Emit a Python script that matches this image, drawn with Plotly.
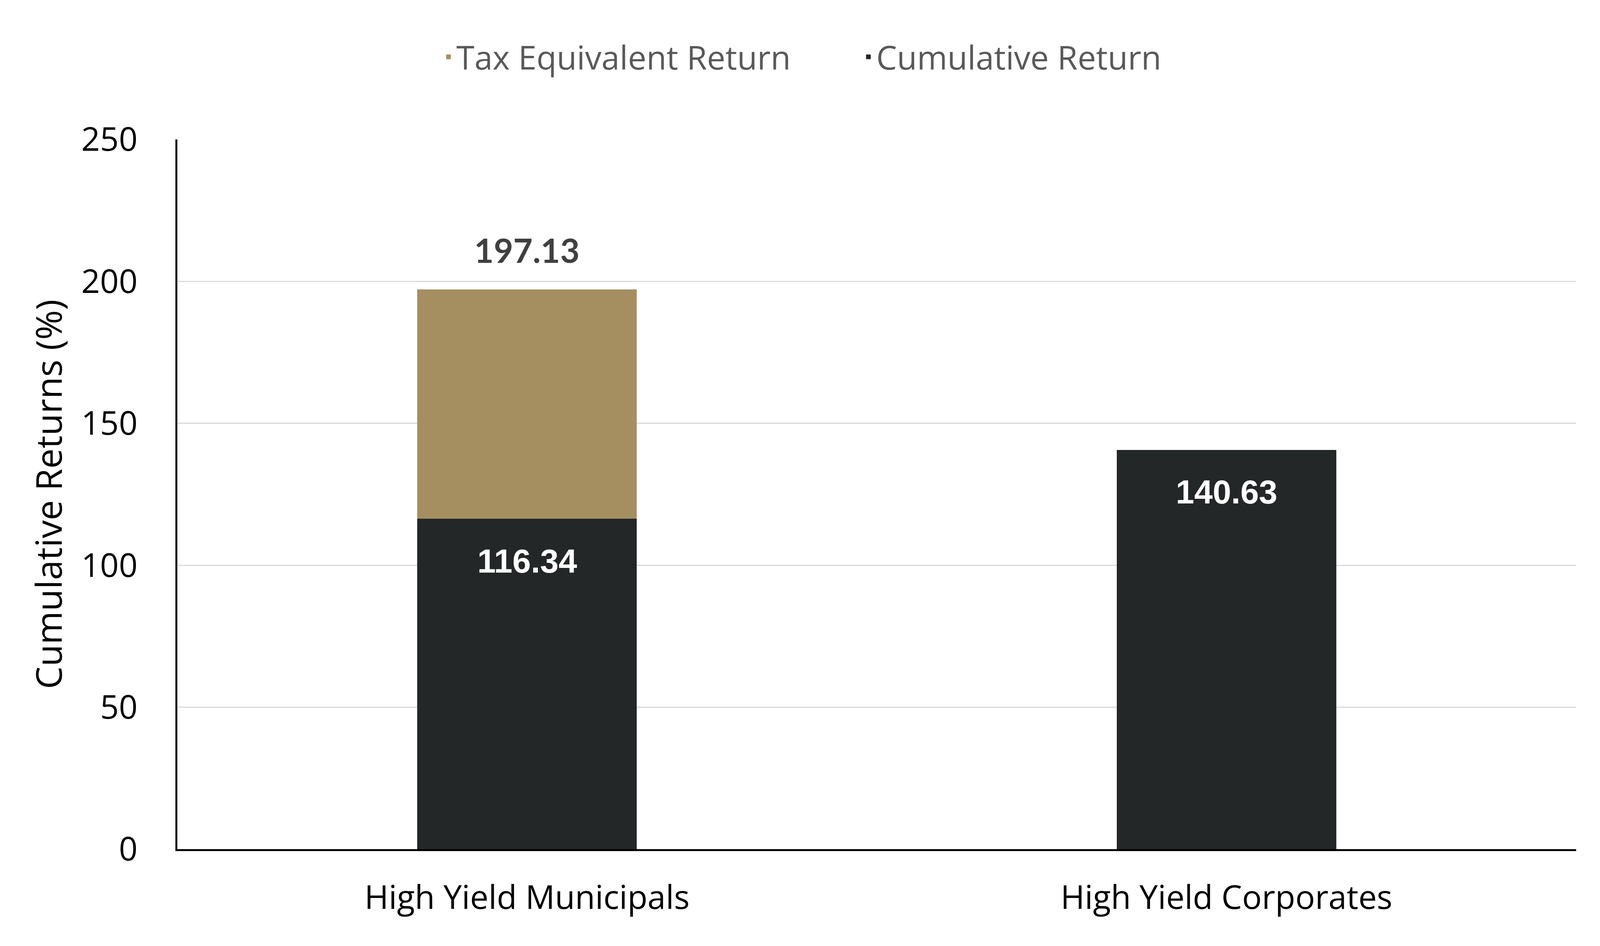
import plotly.graph_objects as go

# values
categories = ["High Yield Municipals", "High Yield Corporates"]
cumulative_return = [116.34, 140.63]
tax_equivalent_return = [197.13, None]   # total height of the stacked bar
y_ticks = [0, 50, 100, 150, 200, 250]

gold = "#A58F60"
dark = "#232728"

# the tan segment only covers the part above the cumulative return
tax_extra = [t - c if t is not None else None for t, c in zip(tax_equivalent_return, cumulative_return)]

fig = go.Figure()
fig.add_trace(go.Bar(
    x=categories, y=cumulative_return, name="Cumulative Return",
    marker_color=dark, width=0.314,
))
fig.add_trace(go.Bar(
    x=categories, y=tax_extra, name="Tax Equivalent Return",
    marker_color=gold, width=0.314,
))

# labels inside the dark bars, near the top
for cat, val in zip(categories, cumulative_return):
    fig.add_annotation(
        x=cat, y=val, text=f"{val:.2f}", showarrow=False,
        yanchor="middle", yshift=-108,
        font=dict(family="Liberation Sans", size=85, color="white", weight="bold"),
    )

# total labels above the stacked bars
for cat, val in zip(categories, tax_equivalent_return):
    if val is None:
        continue
    fig.add_annotation(
        x=cat, y=val, text=f"{val:.2f}", showarrow=False,
        yanchor="middle", yshift=102,
        font=dict(family="Lato", size=86, color="#404040", weight="bold"),
    )

fig.update_layout(
    barmode="stack",
    template="none",
    width=4100, height=2422,
    margin=dict(l=446, r=73, t=349, b=256),
    paper_bgcolor="white", plot_bgcolor="white",
    font=dict(family="Open Sans", size=84, color="black"),
    legend=dict(
        orientation="h", traceorder="reversed",
        xref="container", x=0.5354, xanchor="center",
        yref="container", y=1 - 138 / 2422, yanchor="middle",
        font=dict(size=84, color="#595959"),
        entrywidth=1030,
    ),
    xaxis=dict(
        showline=True, linecolor="black", linewidth=5,
        showgrid=False, ticks="", ticklabelstandoff=47,
    ),
    yaxis=dict(
        range=[0, 250], tickvals=y_ticks,
        showline=True, linecolor="black", linewidth=5,
        showgrid=True, gridcolor="#D9D9D9", gridwidth=3,
        zeroline=False, ticks="", ticklabelstandoff=80,
        title=dict(text="Cumulative Returns (%)", standoff=20, font=dict(size=92)),
    ),
)

fig.write_html("out.html")
